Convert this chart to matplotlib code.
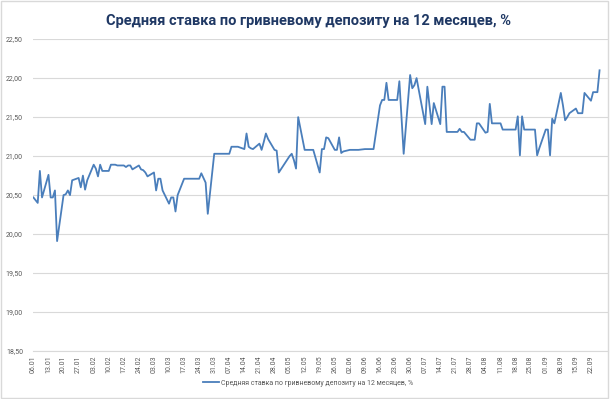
import numpy as np
import pandas as pd
import matplotlib
matplotlib.use("Agg")
import matplotlib.pyplot as plt
import matplotlib.dates as mdates
from matplotlib.patches import Rectangle
from matplotlib.ticker import FuncFormatter

title = "Средняя ставка по гривневому депозиту на 12 месяцев, %"
series_name = "Средняя ставка по гривневому депозиту на 12 месяцев, %"

# business days, holidays with no quote are dropped
start_day = "2014-01-06"
end_day = "2014-09-26"
holidays = ["2014-01-07", "2014-05-01", "2014-05-02"]

# one row per week, Mon..Fri
rate = [
    20.47, 20.40, 20.81, 20.47,
    20.76, 20.47, 20.47, 20.56, 19.91,
    20.50, 20.51, 20.56, 20.50, 20.69,
    20.72, 20.60, 20.75, 20.57, 20.69,
    20.89, 20.84, 20.74, 20.89, 20.81,
    20.81, 20.89, 20.89, 20.89, 20.88,
    20.88, 20.86, 20.88, 20.88, 20.83,
    20.88, 20.83, 20.82, 20.79, 20.74,
    20.79, 20.56, 20.71, 20.71, 20.56,
    20.39, 20.47, 20.47, 20.29, 20.50,
    20.71, 20.71, 20.71, 20.71, 20.71,
    20.71, 20.78, 20.72, 20.66, 20.26,
    21.03, 21.03, 21.03, 21.03, 21.03,
    21.03, 21.12, 21.12, 21.12, 21.12,
    21.09, 21.29, 21.12, 21.10, 21.09,
    21.16, 21.08, 21.18, 21.29, 21.22,
    21.08, 21.07, 20.79,
    21.00, 21.03, 20.95, 20.84, 21.50,
    21.08, 21.08, 21.08, 21.08, 21.08,
    20.79, 21.09, 21.09, 21.24, 21.23,
    21.08, 21.08, 21.24, 21.04, 21.06,
    21.08, 21.08, 21.08, 21.08, 21.08,
    21.09, 21.09, 21.09, 21.09, 21.09,
    21.65, 21.72, 21.72, 21.94, 21.72,
    21.72, 21.72, 21.96, 21.50, 21.03,
    22.04, 21.87, 21.91, 22.00, 21.85,
    21.41, 21.89, 21.65, 21.41, 21.68,
    21.41, 21.89, 21.89, 21.31, 21.31,
    21.31, 21.31, 21.35, 21.31, 21.31,
    21.21, 21.21, 21.21, 21.42, 21.42,
    21.30, 21.31, 21.67, 21.42, 21.42,
    21.42, 21.34, 21.34, 21.34, 21.34,
    21.34, 21.51, 21.01, 21.51, 21.34,
    21.34, 21.34, 21.34, 21.01, 21.10,
    21.34, 21.34, 21.01, 21.48, 21.42,
    21.81, 21.65, 21.46, 21.50, 21.55,
    21.61, 21.55, 21.55, 21.55, 21.81,
    21.71, 21.82, 21.82, 21.82, 22.10,
]

y_ticks = [18.5, 19.0, 19.5, 20.0, 20.5, 21.0, 21.5, 22.0, 22.5]
x_tick_start = "2014-01-06"
x_tick_end = "2014-09-22"

days = pd.bdate_range(start_day, end_day)
days = days[~days.isin(pd.to_datetime(holidays))]
df = pd.DataFrame({"date": days, "rate": rate})

line_color = "#4a7ebb"
grid_color = "#d9d9d9"
label_color = "#595959"

plt.rcParams["font.family"] = ["Roboto", "DejaVu Sans"]

fig = plt.figure(figsize=(6.10, 3.99), dpi=100)
ax = fig.add_axes([0.0536, 0.120, 0.9434, 0.782])

ax.plot(df["date"], df["rate"], color=line_color, lw=1.3, label=series_name)

ax.set_ylim(18.5, 22.5)
ax.set_yticks(y_ticks)
ax.yaxis.set_major_formatter(FuncFormatter(lambda v, p: f"{v:.2f}".replace(".", ",")))
ax.set_xlim(pd.Timestamp(start_day) - pd.Timedelta(hours=8), pd.Timestamp("2014-09-30"))
ax.set_xticks(pd.date_range(x_tick_start, x_tick_end, freq="7D"))
ax.xaxis.set_major_formatter(mdates.DateFormatter("%d.%m"))

ax.grid(axis="y", color=grid_color, lw=0.8)
ax.set_axisbelow(True)
for s in ["top", "right", "left"]:
    ax.spines[s].set_visible(False)
ax.spines["bottom"].set_color(grid_color)
ax.spines["bottom"].set_linewidth(0.8)
ax.tick_params(axis="y", length=0, labelsize=5, labelcolor=label_color, pad=7)
ax.tick_params(axis="x", length=0, labelsize=5, labelcolor=label_color, pad=3,
               labelrotation=90)

fig.suptitle(title, x=0.505, y=0.965, fontsize=10.5, fontweight="bold",
             color="#1f3864")

fig.legend(loc="center", bbox_to_anchor=(0.505, 0.04), frameon=False,
           fontsize=5, handlelength=2.2, handletextpad=0.3,
           labelcolor=label_color)

# light frame around the whole chart, as in the spreadsheet export
fig.patches.append(Rectangle((0.002, 0.003), 0.995, 0.994, transform=fig.transFigure,
                             fill=False, edgecolor=grid_color, lw=1))

fig.savefig("out.png", dpi=100)
